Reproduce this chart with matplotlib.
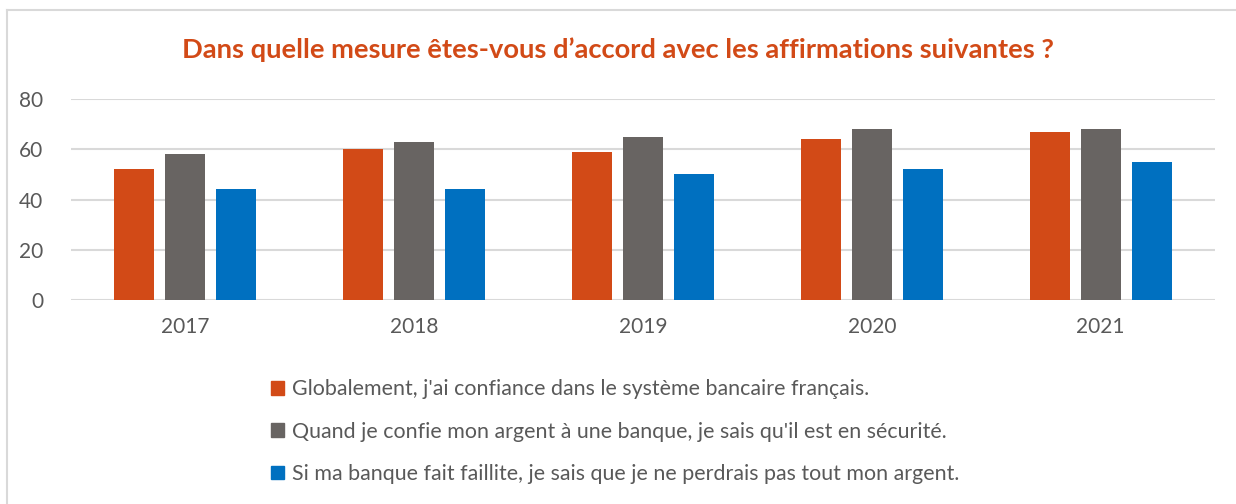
import numpy as np
import matplotlib.pyplot as plt
from matplotlib.lines import Line2D
from matplotlib.patches import Patch

# Data
years = ['2017', '2018', '2019', '2020', '2021']
confiance = [52, 60, 59, 64, 67]
securite = [58, 63, 65, 68, 68]
faillite = [44, 44, 50, 52, 55]
labels = ["Globalement, j'ai confiance dans le système bancaire français.",
          "Quand je confie mon argent à une banque, je sais qu'il est en sécurité.",
          "Si ma banque fait faillite, je sais que je ne perdrais pas tout mon argent."]
colors = ['#D24A17', '#686462', '#0070C0']

plt.rcParams['font.family'] = ['Lato', 'DejaVu Sans']

fig = plt.figure(figsize=(12.36, 5.04), dpi=100)
ax = fig.add_axes([71 / 1236, 1 - 300 / 504, (1215 - 71) / 1236, 201 / 504])

x = np.arange(len(years))
width = 0.175
pitch = 0.223
for i, (vals, c) in enumerate(zip([confiance, securite, faillite], colors)):
    ax.bar(x + (i - 1) * pitch, vals, width, color=c, zorder=3)

ax.set_xlim(-0.5, len(years) - 0.5)
ax.set_ylim(0, 80)
ax.set_yticks([0, 20, 40, 60, 80])
ax.set_xticks(x)
ax.set_xticklabels(years)
ax.grid(axis='y', color='#D9D9D9', linewidth=1.5, zorder=0)
for s in ax.spines.values():
    s.set_visible(False)
ax.tick_params(length=0, labelsize=15, colors='#595959', pad=12)
ax.tick_params(axis='y', pad=20)

fig.text(0.5, 1 - 50 / 504, "Dans quelle mesure êtes-vous d’accord avec les affirmations suivantes ?",
         ha='center', va='center', fontsize=19.7, fontweight='bold', color='#D24A17')

handles = [Patch(color=c) for c in colors]
fig.legend(handles, labels, loc='upper left', bbox_to_anchor=(252 / 1236, 1 - 360 / 504),
           frameon=False, fontsize=15.4, labelcolor='#595959', labelspacing=1.05,
           handlelength=0.6, handleheight=0.6, handletextpad=0.35)

# chart frame
fig.add_artist(Line2D([7 / 1236, 1], [1 - 10 / 504, 1 - 10 / 504], color='#D9D9D9', lw=1.5))
fig.add_artist(Line2D([7 / 1236, 7 / 1236], [0, 1 - 10 / 504], color='#D9D9D9', lw=1.5))

fig.savefig('out.png', dpi=100)
